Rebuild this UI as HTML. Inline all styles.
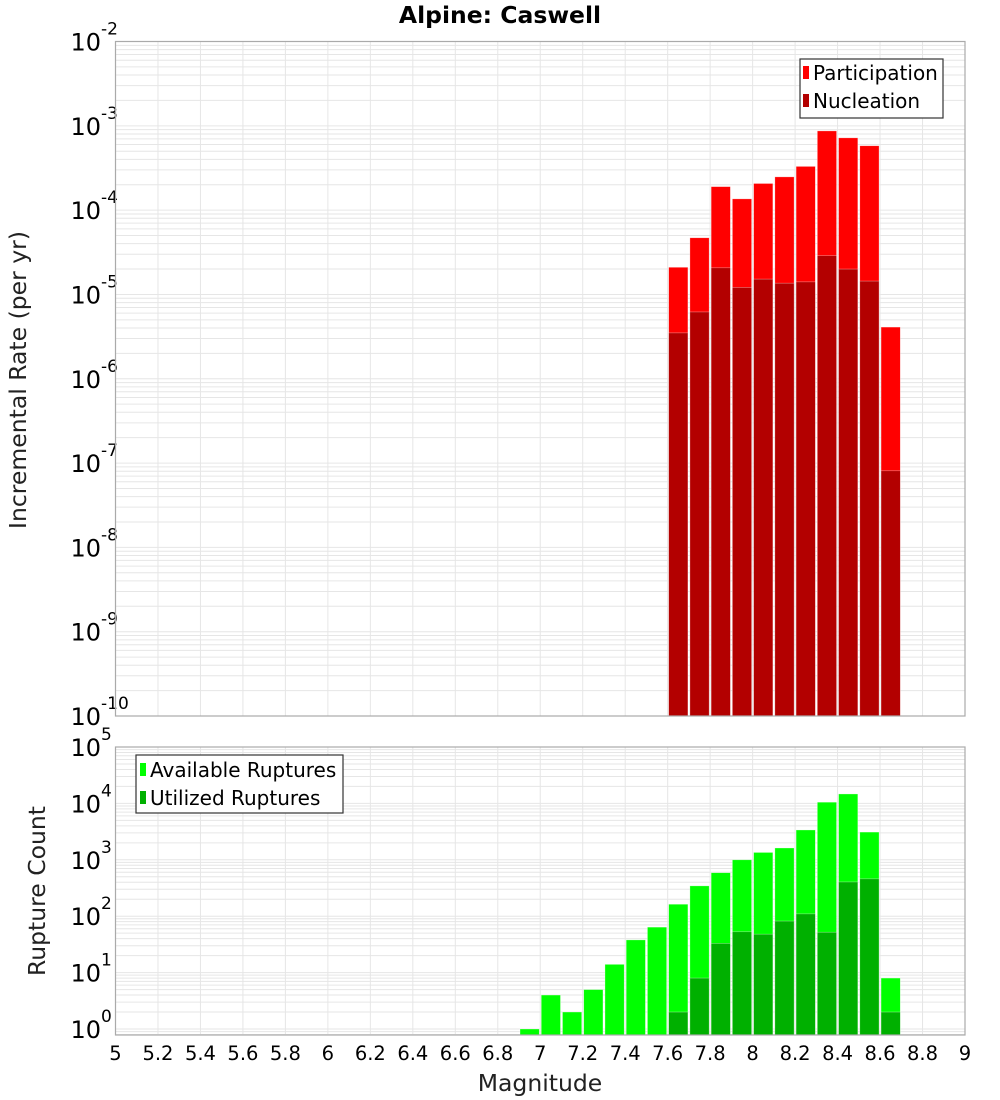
<!DOCTYPE html>
<html><head><meta charset="utf-8"><style>
body{margin:0;background:#fff;}
svg{display:block;font-family:"DejaVu Sans","Liberation Sans",sans-serif;}
</style></head><body>
<svg id="chart" width="1000" height="1100" viewBox="0 0 1000 1100">
<text x="500" y="23" text-anchor="middle" font-size="23.5" font-weight="bold">Alpine: Caswell</text>
<text transform="translate(26,380) rotate(-90)" text-anchor="middle" font-size="23.5" fill="#222">Incremental Rate (per yr)</text>
<text transform="translate(45,891) rotate(-90)" text-anchor="middle" font-size="23.5" fill="#222">Rupture Count</text>
<text x="540" y="1091" text-anchor="middle" font-size="23.5" fill="#222">Magnitude</text>
<g id="top"></g>
<g id="bot"></g>
<g id="xt"></g>
<g>
<rect x="800" y="59" width="143" height="59" fill="#fff" stroke="#333" stroke-width="1.2"/>
<rect x="803" y="66" width="6" height="13" fill="#ff0000"/>
<text x="813" y="80" font-size="20">Participation</text>
<rect x="803" y="94" width="6" height="13" fill="#b30000"/>
<text x="813" y="108" font-size="20">Nucleation</text>
</g>
<g>
<rect x="136" y="755" width="207" height="58" fill="#fff" stroke="#333" stroke-width="1.2"/>
<rect x="140" y="763" width="6" height="13" fill="#00ff00"/>
<text x="150" y="777" font-size="20">Available Ruptures</text>
<rect x="140" y="791" width="6" height="13" fill="#00b000"/>
<text x="150" y="805" font-size="20">Utilized Ruptures</text>
</g>
</svg>
<script>
const rateMags=[7.6,7.7,7.8,7.9,8.0,8.1,8.2,8.3,8.4,8.5,8.6];
const participation=[2.1e-5,4.7e-5,1.9e-4,1.36e-4,2.07e-4,2.48e-4,3.3e-4,8.7e-4,7.2e-4,5.8e-4,4.1e-6];
const nucleation=[3.5e-6,6.2e-6,2.07e-5,1.21e-5,1.52e-5,1.36e-5,1.41e-5,2.88e-5,2.0e-5,1.44e-5,8.1e-8];
const countMags=[6.9,7.0,7.1,7.2,7.3,7.4,7.5,7.6,7.7,7.8,7.9,8.0,8.1,8.2,8.3,8.4,8.5,8.6];
const available=[1,4,2,5,14,38,64,163,345,590,1000,1350,1620,3380,10500,14700,3100,8];
const utilized=[0,0,0,0,0,0,0,2,8,33,53,48,82,110,52,405,460,2];
const xTicks=[5,5.2,5.4,5.6,5.8,6,6.2,6.4,6.6,6.8,7,7.2,7.4,7.6,7.8,8,8.2,8.4,8.6,8.8,9];
const topExps=[-2,-3,-4,-5,-6,-7,-8,-9,-10];
const botExps=[5,4,3,2,1,0];
const NS="http://www.w3.org/2000/svg";
const L=115.5,R=965;
function x(m){return L+(m-5)*(R-L)/4;}
function mk(tag,attrs,parent){const e=document.createElementNS(NS,tag);for(const k in attrs)e.setAttribute(k,attrs[k]);parent.appendChild(e);return e;}
function panel(g,top,bottom,yf,lo,hi,minExp,maxExp,exps){
  mk('rect',{x:L,y:top,width:R-L,height:bottom-top,fill:'#fff'},g);
  for(let e=minExp-1;e<=maxExp;e++)for(let k=1;k<10;k++){const v=Math.log10(k)+e;if(v<lo||v>hi)continue;const yy=yf(Math.pow(10,v));const ln=mk('line',{x1:L,x2:R,y1:yy,y2:yy,stroke:'#e6e6e6','stroke-width':1},g);}
  xTicks.forEach(t=>{const ln=mk('line',{x1:x(t),x2:x(t),y1:top,y2:bottom,stroke:'#e6e6e6','stroke-width':1},g);});
  exps.forEach(e=>{const yy=yf(Math.pow(10,e));const t=mk('text',{x:101,y:yy+9,'text-anchor':'end','font-size':24},g);t.textContent='10';const s=mk('text',{x:101,y:yy-7,'font-size':17},g);s.textContent=String(e);});
}
function bars(g,mags,vals,yf,bottom,color,name){
  mags.forEach((m,i)=>{if(!(vals[i]>0))return;const x0=x(m)+1,x1=x(m+0.1)-1;const yy=Math.max(yf(vals[i]),0);const r=mk('rect',{x:x0,y:yy,width:x1-x0,height:bottom-yy,fill:color,stroke:'#ffffff','stroke-opacity':0.5,'stroke-width':0.6},g);});
}
const tg=document.getElementById('top');const T0=41.5,T1=716;
function yt(v){return T0+(-2-Math.log10(v))*(T1-T0)/8;}
panel(tg,T0,T1,yt,-10,-2,-10,-2,topExps);
bars(tg,rateMags,participation,yt,T1,'#ff0000','participation-bar');
bars(tg,rateMags,nucleation,yt,T1,'#b30000','nucleation-bar');
mk('rect',{x:L,y:T0,width:R-L,height:T1-T0,fill:'none',stroke:'#aaa','stroke-width':1.2},tg);
const bg=document.getElementById('bot');const B0=747,B1=1035,DEC=56.4;
function yb(v){return B0+(5-Math.log10(v))*DEC;}
const lowB=5-(B1-B0)/DEC;
panel(bg,B0,B1,yb,lowB,5,0,5,botExps);
bars(bg,countMags,available,yb,B1,'#00ff00','available-bar');
bars(bg,countMags,utilized,yb,B1,'#00b000','utilized-bar');
mk('rect',{x:L,y:B0,width:R-L,height:B1-B0,fill:'none',stroke:'#aaa','stroke-width':1.2},bg);
const xg=document.getElementById('xt');
xTicks.forEach(t=>{const e=mk('text',{x:x(t),y:1060,'text-anchor':'middle','font-size':19.5},xg);e.textContent=String(t);});
</script>
</body></html>
